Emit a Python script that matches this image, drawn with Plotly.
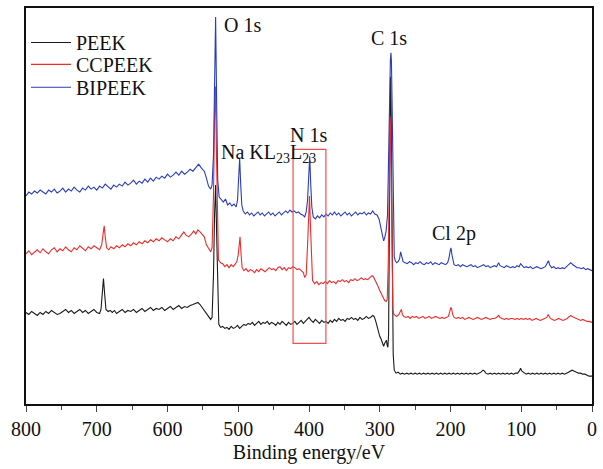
import plotly.graph_objects as go

# ---- data: binding energy (eV) and intensity (a.u.) ----
peek = [
(800,92),(796,90),(792,93),(788,91),(784,89),(780,92),(776,90),(772,93),(768,91),(764,94),(760,92),(756,90),(752,91),(748,93),(744,95),(740,92),(736,94),(732,91),(728,93),(724,95),(720,92),(716,94),(712,91),(708,93),(704,95),(700,92),(696,91),(694,95),(692,110),(690.5,126),(689,112),(687,95),(684,93),(681,94),(678,92),(675,94),(672,91),(668,93),(664,95),(660,92),(656,94),(652,93),(648,95),(644,92),(640,94),(636,96),(632,93),(628,95),(624,97),(620,94),(616,96),(612,95),(608,97),(604,94),(600,96),(596,98),(592,95),(588,97),(584,99),(580,96),(576,98),(572,97),(568,99),(564,100),(560,101),(557,102),(554,100),(551,97),(548,95),(545,92),(542,88),(539,85),(537,87),(535,130),(533.5,190),(532,220),(530.5,170),(529,110),(527.5,80),(525,77),(522,78),(519,76),(516,77),(513,75),(510,78),(507,76),(504,77),(501,79),(498,76),(495,78),(492,80),(489,79),(486,81),(483,80),(480,82),(477,79),(474,81),(471,83),(468,80),(465,82),(462,81),(459,83),(456,80),(453,82),(450,81),(447,79),(444,82),(441,80),(438,83),(435,81),(432,79),(429,82),(426,80),(423,81),(420,83),(417,80),(414,82),(411,84),(408,81),(405,83),(402,86),(400,87),(397,84),(394,82),(391,85),(388,83),(385,81),(382,84),(379,82),(376,83),(373,81),(370,84),(367,82),(364,85),(361,83),(358,86),(355,84),(352,85),(349,83),(346,86),(343,85),(340,87),(337,85),(334,86),(331,84),(328,87),(325,85),(322,86),(319,88),(316,86),(313,87),(310,89),(308,88),(306,84),(304,78),(302,73),(300,68),(298,65),(296,62),(294.5,58),(293,61),(291.5,63),(290.5,64),(289.5,59),(288.5,57),(287.5,70),(286.5,140),(285.5,250),(284.8,329),(284,300),(283,200),(282,110),(281,50),(279.5,34),(277,31),(274,32),(271,30),(268,31),(265,30),(262,31),(259,30),(256,31),(253,30),(250,31),(247,30),(244,31),(241,30),(238,31),(235,30),(232,31),(229,30),(226,31),(223,30),(220,31),(217,30),(214,31),(211,30),(208,31),(205,30),(202,31),(199,30),(196,31),(193,30),(190,31),(187,30),(184,31),(181,30),(178,31),(175,30),(172,31),(169,30),(166,31),(163,30),(160,31),(157,32),(154,34),(152,33),(150,31),(147,30),(144,31),(141,30),(138,31),(135,30),(132,31),(129,30),(126,31),(123,30),(120,31),(117,30),(114,31),(111,30),(108,31),(105,31),(102,34),(101,36),(99,33),(96,31),(93,30),(90,31),(87,30),(84,31),(81,30),(78,31),(75,30),(72,31),(69,30),(66,31),(63,30),(60,31),(57,30),(54,31),(51,30),(48,31),(45,30),(42,31),(39,30),(36,31),(33,32),(30,33),(28,34),(25,33),(22,32),(19,31),(16,31),(13,30),(10,30),(7,29),(4,28),(0,28)]

ccpeek = [
(800,151),(796,154),(792,150),(788,153),(784,155),(780,152),(776,156),(772,153),(768,151),(764,155),(760,157),(756,153),(752,156),(748,154),(744,158),(740,155),(736,153),(732,157),(728,155),(724,159),(720,156),(716,154),(712,158),(708,156),(704,159),(700,157),(696,155),(693,160),(691,170),(689.5,179),(688,168),(686,157),(683,155),(680,158),(676,156),(672,159),(668,157),(664,160),(660,158),(656,161),(652,159),(648,162),(644,160),(640,163),(636,161),(632,164),(628,162),(624,165),(620,163),(616,166),(612,164),(608,167),(604,165),(600,163),(596,166),(592,164),(588,168),(584,166),(580,170),(577,173),(574,170),(570,168),(566,171),(563,174),(560,171),(557,175),(554,173),(551,170),(548,168),(545,160),(542,156),(539,153),(537,157),(535,210),(533.5,290),(532.3,319),(531,260),(529.5,190),(528,145),(525,142),(522,141),(519,138),(516,140),(513,137),(510,140),(507,138),(504,141),(502,143),(500,150),(498.5,166),(497.5,168),(496,150),(494.5,137),(492,134),(489,136),(486,133),(483,135),(480,134),(477,132),(474,135),(471,133),(468,136),(465,134),(462,133),(459,135),(456,137),(453,135),(450,136),(447,134),(444,137),(441,138),(438,135),(435,137),(432,134),(429,137),(426,136),(423,138),(420,137),(417,135),(414,136),(411,134),(408,132),(406,127),(404,130),(402,160),(400.5,195),(399.3,209),(398,180),(396.5,140),(395,124),(392,121),(389,123),(386,120),(383,122),(380,121),(377,123),(374,121),(371,124),(368,122),(365,123),(362,121),(359,124),(356,123),(353,125),(350,123),(347,124),(344,122),(341,125),(338,124),(335,126),(332,124),(329,125),(326,127),(323,125),(320,126),(317,125),(314,127),(311,129),(309,128),(306,124),(303,119),(300,114),(297,110),(295,106),(293,104),(291,103),(289.5,105),(288,140),(286.5,220),(285.3,289),(284.5,270),(283.5,190),(282.5,120),(281.5,95),(280,90),(278,89),(276,88),(273,90),(271,93),(269.5,95),(268,90),(266,88),(263,87),(260,88),(257,86),(254,88),(251,87),(248,88),(245,86),(242,87),(239,88),(236,86),(233,87),(230,88),(227,86),(224,87),(221,88),(218,87),(215,86),(212,87),(209,86),(206,87),(203,88),(201,93),(199.5,97),(198.5,96),(197,90),(195,87),(192,86),(189,87),(186,86),(183,87),(180,85),(177,86),(174,87),(171,86),(168,85),(165,86),(162,87),(159,86),(156,85),(153,86),(150,87),(147,86),(144,85),(141,86),(138,86),(135,87),(132,89),(130,87),(127,86),(124,85),(121,86),(118,85),(115,86),(112,86),(109,85),(106,86),(103,85),(100,86),(97,85),(94,86),(91,85),(88,86),(85,84),(82,85),(79,86),(76,85),(73,84),(70,85),(67,86),(64,87),(62,90),(60.5,88),(59,86),(56,85),(53,84),(50,85),(47,86),(44,85),(41,84),(38,85),(35,86),(32,88),(30,89),(28,88),(25,87),(22,86),(19,85),(16,84),(13,85),(10,84),(7,83),(4,83),(0,82)]

bipeek = [
(800,209),(796,213),(792,211),(788,214),(784,212),(780,215),(776,213),(772,211),(768,215),(764,213),(760,216),(756,212),(752,214),(748,217),(744,213),(740,216),(736,214),(732,218),(728,215),(724,213),(720,217),(716,215),(712,219),(708,216),(704,218),(700,215),(696,219),(692,217),(688,221),(684,218),(680,216),(676,220),(672,218),(668,221),(664,219),(660,223),(656,220),(652,222),(648,225),(644,221),(640,224),(636,222),(632,226),(628,223),(624,227),(620,224),(616,228),(612,226),(608,229),(604,227),(600,231),(596,228),(592,230),(588,233),(584,230),(580,234),(576,231),(572,233),(568,236),(564,234),(560,238),(556,241),(552,237),(548,234),(545,227),(542,219),(539,216),(537,220),(535,250),(533.5,340),(532,389),(530.5,300),(529,225),(527,208),(524,205),(521,203),(518,206),(515,200),(512,202),(509,199),(506,201),(503,198),(501,205),(499.5,230),(498,247),(496.5,220),(495,200),(493,194),(490,191),(487,193),(484,190),(481,192),(478,189),(475,191),(472,193),(469,190),(466,192),(463,189),(460,191),(457,193),(454,190),(451,192),(448,189),(445,191),(442,193),(439,190),(436,192),(433,194),(430,192),(427,195),(424,193),(421,194),(418,192),(415,193),(412,191),(409,190),(406,188),(404,193),(402,205),(400.5,230),(399,249),(397.5,220),(396,198),(394,188),(391,186),(388,189),(385,187),(382,190),(379,188),(376,191),(373,189),(370,192),(367,190),(364,193),(361,190),(358,192),(355,189),(352,191),(349,193),(346,190),(343,192),(340,189),(337,191),(334,193),(331,190),(328,192),(325,191),(322,193),(319,190),(316,192),(313,191),(310,194),(307,191),(304,190),(301,186),(298,177),(296,168),(294.5,164),(293,167),(291,174),(289,190),(287.5,260),(286,320),(285,345),(284.2,353),(283.5,345),(282.5,300),(281.5,230),(280.5,170),(279.5,148),(278,144),(276,142),(274,143),(272,146),(270.5,153),(269,147),(267,143),(264,142),(261,141),(258,143),(255,142),(252,140),(249,142),(246,141),(243,143),(240,141),(237,140),(234,142),(231,141),(228,143),(225,140),(222,142),(219,141),(216,140),(213,142),(210,141),(207,140),(204,142),(202,147),(200.5,154),(199.3,157),(198,150),(196.5,143),(195,140),(192,139),(189,140),(186,138),(183,140),(180,139),(177,138),(174,139),(171,140),(168,138),(165,139),(162,137),(159,138),(156,139),(153,140),(150,138),(147,139),(144,137),(141,138),(138,139),(135,138),(132,142),(130,139),(127,138),(124,137),(121,139),(118,138),(115,137),(112,138),(109,137),(106,139),(103,138),(101,141),(99,139),(96,137),(93,138),(90,137),(87,138),(84,136),(81,137),(78,138),(75,137),(72,136),(69,137),(66,138),(63,142),(61.5,144),(60,140),(57,137),(54,138),(51,136),(48,137),(45,136),(42,137),(39,136),(36,138),(33,140),(30,142),(27,140),(24,138),(21,137),(18,137),(15,136),(12,137),(9,135),(6,136),(3,135),(0,134)]

series_names = ["PEEK", "CCPEEK", "BIPEEK"]
series_colors = ["#1a1a1a", "#ee2b2b", "#2b3bbb"]
x_ticks = [800, 700, 600, 500, 400, 300, 200, 100, 0]

# peak labels: (text, energy, intensity, xanchor)
peak_labels = [
    ("O 1s", 523.5, 381, "left"),
    ("C 1s", 287.0, 368, "center"),
    ("N 1s", 400.7, 270, "center"),
    ("Na KL<sub>23</sub>L<sub>23</sub>", 527.7, 252, "left"),
    ("Cl 2p", 228.8, 171, "left"),
]
# highlight box around the N 1s region (energy range, intensity range)
box_energy = (422.5, 376.1)
box_intensity = (61, 256)

FONT = "Liberation Serif"
legend_ids = ["legend", "legend2", "legend3"]
legend_tops = [0.962, 0.907, 0.849]

fig = go.Figure()
for name, color, data, lid in zip(series_names, series_colors, [peek, ccpeek, bipeek], legend_ids):
    fig.add_trace(go.Scatter(
        x=[p[0] for p in data], y=[p[1] for p in data],
        mode="lines", name=name, legend=lid,
        line=dict(color=color, width=1.1),
    ))

for text, e, i, xa in peak_labels:
    fig.add_annotation(x=e, y=i, text=text, showarrow=False,
                       xanchor=xa, yanchor="middle",
                       font=dict(family=FONT, size=20, color="#111"))

fig.add_shape(type="rect", x0=box_energy[0], x1=box_energy[1],
              y0=box_intensity[0], y1=box_intensity[1],
              line=dict(color="#f05050", width=1.2))

legend_style = dict(x=0.0, xanchor="left", yanchor="top",
                    bgcolor="rgba(0,0,0,0)", font=dict(family=FONT, size=20, color="#111"),
                    itemwidth=40)
fig.update_layout(
    width=603, height=469,
    margin=dict(l=26, r=7, t=6, b=65),
    paper_bgcolor="white", plot_bgcolor="white",
    font=dict(family=FONT, size=20, color="#111"),
    showlegend=True,
    legend=dict(y=legend_tops[0], **legend_style),
    legend2=dict(y=legend_tops[1], **legend_style),
    legend3=dict(y=legend_tops[2], **legend_style),
)
fig.update_xaxes(
    range=[800, 0], tickvals=x_ticks, ticks="outside", ticklen=6, tickwidth=1.3,
    minor=dict(dtick=50, ticks="outside", ticklen=4, tickwidth=1.3),
    showline=True, linecolor="#111", linewidth=1.5, mirror=True,
    showgrid=False, zeroline=False,
    title=dict(text="Binding energy/eV", font=dict(family=FONT, size=20), standoff=6),
    tickfont=dict(family=FONT, size=20),
)
fig.update_yaxes(
    range=[0, 398], showticklabels=False, ticks="",
    showline=True, linecolor="#111", linewidth=1.5, mirror=True,
    showgrid=False, zeroline=False,
)

fig.write_html("out.html", config={"displayModeBar": False},
               post_script="document.body.style.margin='0';document.body.style.padding='0';")
